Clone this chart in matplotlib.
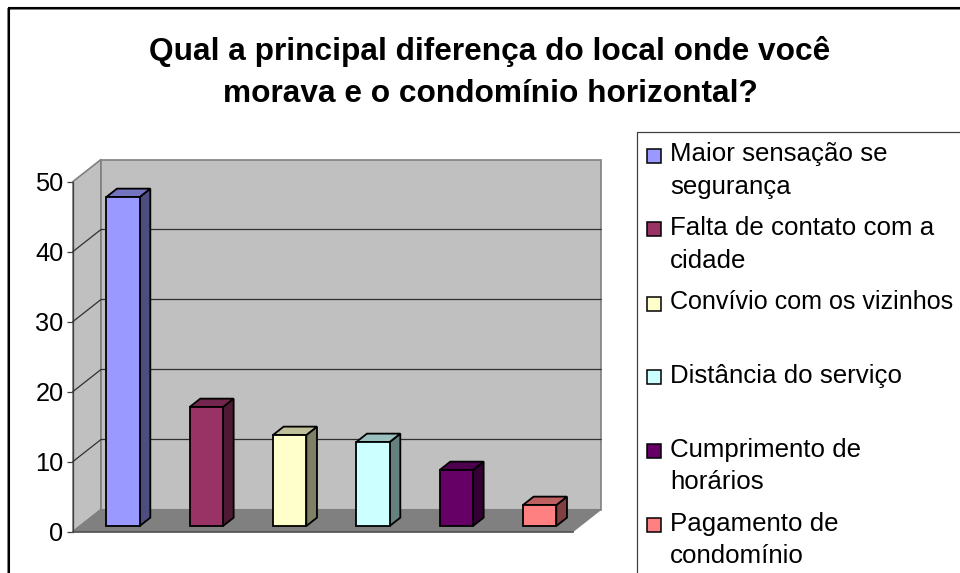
import matplotlib
matplotlib.use("Agg")
import matplotlib.pyplot as plt
from matplotlib.colors import to_rgb
from matplotlib.patches import Rectangle

plt.rcParams["font.family"] = ["Liberation Sans", "DejaVu Sans"]

title = "Qual a principal diferença do local onde você\nmorava e o condomínio horizontal?"
categories = [
    "Maior sensação se\nsegurança",
    "Falta de contato com a\ncidade",
    "Convívio com os vizinhos",
    "Distância do serviço",
    "Cumprimento de\nhorários",
    "Pagamento de\ncondomínio",
]
values = [47, 17, 13, 12, 8, 3]
colors = ["#9999FF", "#993366", "#FFFFCC", "#CCFFFF", "#660066", "#FF8080"]
yticks = [0, 10, 20, 30, 40, 50]

W, H = 960, 573
# depth of the 3D box, in data units
DX = 28 / (500 / 6)
DY = 22 / 7
BAR_W = 0.40
BAR_FRONT = 0.25
BAR_DEPTH = 0.38
BAR_SHIFT = 0.016


def proj(x, y, d):
    return x + d * DX, y + d * DY


def shade(color, k):
    r, g, b = to_rgb(color)
    return (r * k, g * k, b * k)


def face(ax, pts, color, edge, lw, zorder):
    xs = [p[0] for p in pts]
    ys = [p[1] for p in pts]
    ax.fill(xs, ys, facecolor=color, edgecolor=edge, linewidth=lw,
            joinstyle="miter", clip_on=False, zorder=zorder)


def px_box(x0, y0, x1, y1):
    return (x0 / W, 1 - y1 / H), (x1 - x0) / W, (y1 - y0) / H


fig = plt.figure(figsize=(W / 100, H / 100), dpi=100, facecolor="white")

# Outer chart border, behind the axes
fig.add_artist(Rectangle(*px_box(8.3, 9, 1000, 640), transform=fig.transFigure,
                         facecolor="white", edgecolor="#808080", linewidth=1.4, zorder=-2))
fig.add_artist(Rectangle(*px_box(9.3, 8, 1000, 640), transform=fig.transFigure,
                         facecolor="none", edgecolor="black", linewidth=1.5, zorder=-1))

fig.text(490 / W, 1 - 72.5 / H, title, ha="center", va="center",
         fontsize=22.8, fontweight="bold", linespacing=1.52)

ax = fig.add_axes([73 / W, 1 - 531.5 / H, 500 / W, 350 / H])
ax.set_xlim(0, 6)
ax.set_ylim(0, 50)
ax.patch.set_visible(False)
for name in ["top", "right", "bottom"]:
    ax.spines[name].set_visible(False)
ax.spines["left"].set_color("#404040")
ax.spines["left"].set_linewidth(0.9)
ax.set_xticks([])
ax.set_yticks(yticks)
ax.tick_params(axis="y", length=4.3, width=0.9, color="#404040", labelsize=18.3, pad=2.5)

# Walls and floor
face(ax, [proj(0, 0, 0), proj(0, 50, 0), proj(0, 50, 1), proj(0, 0, 1)], "#C0C0C0", "#808080", 1.2, 1)
face(ax, [proj(0, 0, 1), proj(0, 50, 1), proj(6, 50, 1), proj(6, 0, 1)], "#C0C0C0", "#808080", 1.2, 1)
face(ax, [proj(0, 0, 0), proj(0, 0, 1), proj(6, 0, 1), proj(6, 0, 0)], "#808080", "#808080", 0.8, 2)
x0, y0 = proj(0, 0, 0)
x1, y1 = proj(6, 0, 0)
ax.plot([x0, x1], [y0, y1], color="#505050", lw=1.2, clip_on=False, zorder=3)

# Gridlines
for t in yticks[1:-1]:
    a = proj(0, t, 0)
    b = proj(0, t, 1)
    c = proj(6, t, 1)
    ax.plot([a[0], b[0], c[0]], [a[1], b[1], c[1]], color="#303030", lw=0.9,
            clip_on=False, zorder=3)

# Bars
for i, (v, col) in enumerate(zip(values, colors)):
    left = i + 0.5 - BAR_W / 2 + BAR_SHIFT
    right = left + BAR_W
    d0 = BAR_FRONT
    d1 = BAR_FRONT + BAR_DEPTH
    face(ax, [proj(right, 0, d0), proj(right, v, d0), proj(right, v, d1), proj(right, 0, d1)],
         shade(col, 0.5), "black", 1.3, 5)
    face(ax, [proj(left, v, d0), proj(left, v, d1), proj(right, v, d1), proj(right, v, d0)],
         shade(col, 0.75), "black", 1.3, 5)
    face(ax, [proj(left, 0, d0), proj(left, v, d0), proj(right, v, d0), proj(right, 0, d0)],
         col, "black", 1.3, 6)

# Legend
fig.add_artist(Rectangle(*px_box(636.5, 131.5, 1000, 640), transform=fig.transFigure,
                         facecolor="white", edgecolor="#404040", linewidth=0.9))
legend_y = [155.5, 229.5, 303.5, 377, 451, 525]
legend_size = [18.6, 18.6, 18.05, 18.6, 18.6, 18.6]
for label, col, ly, size in zip(categories, colors, legend_y, legend_size):
    fig.add_artist(Rectangle(*px_box(647, ly - 7, 661, ly + 7), transform=fig.transFigure,
                             facecolor=col, edgecolor="black", linewidth=1.1))
    fig.text(670 / W, 1 - (ly - 13.5) / H, label, ha="left", va="top",
             fontsize=size, linespacing=1.45)

fig.savefig("out.png", dpi=100)
